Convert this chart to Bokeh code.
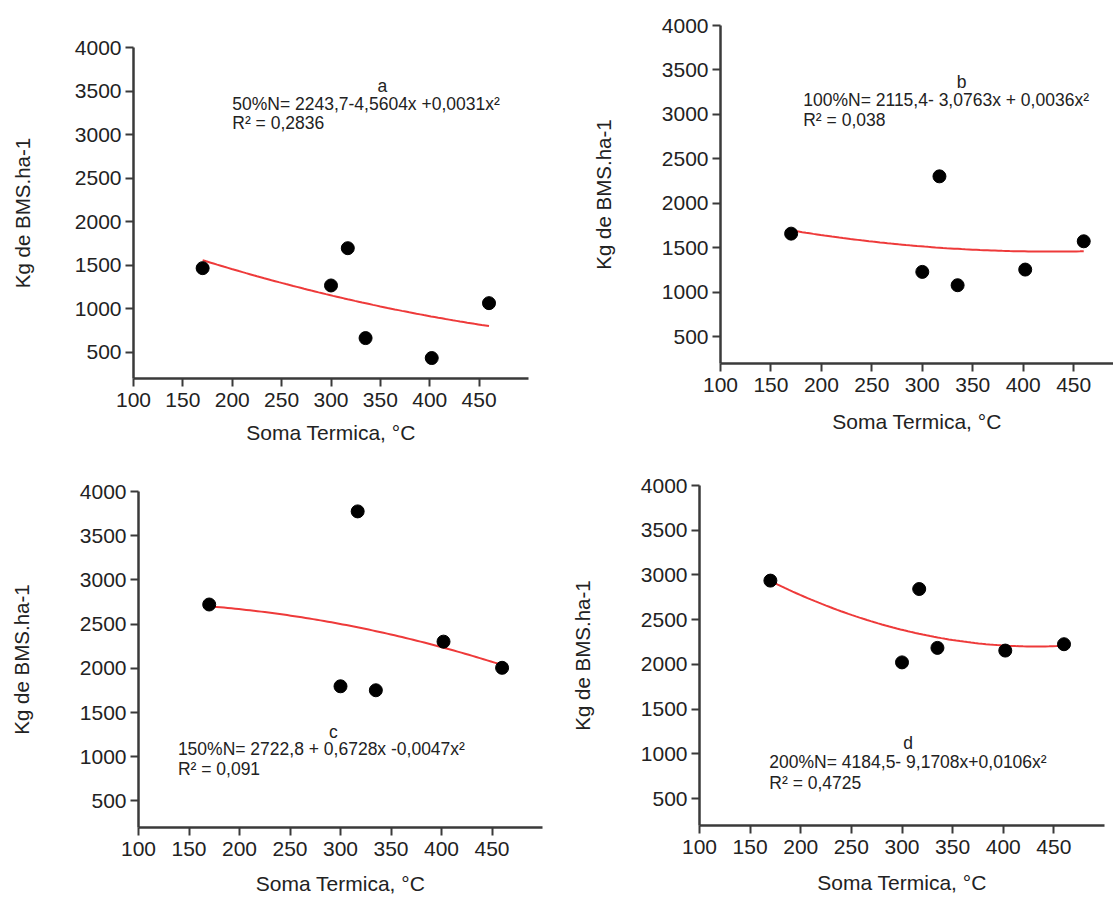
import numpy as np
from bokeh.plotting import figure
from bokeh.layouts import column, row
from bokeh.models import FixedTicker, Range1d
from bokeh.core.properties import value
from bokeh.embed import file_html
from bokeh.resources import INLINE

# ---------------- data ----------------
soma_termica = [170, 300, 317, 335, 402, 460]

bms_50 = [1467, 1268, 1696, 664, 435, 1065]
bms_100 = [1660, 1230, 2304, 1080, 1256, 1574]
bms_150 = [2722, 1797, 3775, 1752, 2302, 2006]
bms_200 = [2937, 2023, 2843, 2185, 2155, 2226]

# fitted quadratic coefficients as printed on the chart: c0 + c1*x + c2*x^2
coef_50 = [2243.7, -4.5604, 0.0031]
coef_100 = [2115.4, -3.0763, 0.0036]
coef_150 = [2722.8, 0.6728, -0.0047]
coef_200 = [4184.5, -9.1708, 0.0106]

eq_50 = "50%N= 2243,7-4,5604x +0,0031x²"
eq_100 = "100%N= 2115,4- 3,0763x + 0,0036x²"
eq_150 = "150%N= 2722,8 + 0,6728x -0,0047x²"
eq_200 = "200%N= 4184,5- 9,1708x+0,0106x²"
r2_50 = "R² = 0,2836"
r2_100 = "R² = 0,038"
r2_150 = "R² = 0,091"
r2_200 = "R² = 0,4725"
letters = ["a", "b", "c", "d"]

x_ticks = [100, 150, 200, 250, 300, 350, 400, 450]
y_ticks = [500, 1000, 1500, 2000, 2500, 3000, 3500, 4000]
x_title = "Soma Termica, °C"
y_title = "Kg de BMS.ha-1"

FONT = "Liberation Sans"
AXIS_COL = "#3a3a3a"
TEXT_COL = "#222222"
RED = "#ee3a3a"
Y_LO, Y_HI = 200, 4000


def panel(w, h, borders, x_end, ys, coef, letter, eq, r2,
          letter_pos, eq_pos, r2_y, y_standoff, x_standoff):
    l, r, t, b = borders
    p = figure(width=w, height=h, output_backend="svg", toolbar_location=None,
               x_range=Range1d(100, x_end), y_range=Range1d(Y_LO, Y_HI),
               min_border_left=l, min_border_right=r, min_border_top=t, min_border_bottom=b,
               background_fill_color="white", border_fill_color="white")
    p.outline_line_color = None
    p.grid.grid_line_color = None
    for ax, ticks in ((p.xaxis, x_ticks), (p.yaxis, y_ticks)):
        ax.ticker = FixedTicker(ticks=ticks)
        ax.axis_line_color = AXIS_COL
        ax.axis_line_width = 2.5
        ax.major_tick_line_color = AXIS_COL
        ax.major_tick_line_width = 2
        ax.major_tick_in = 0
        ax.major_tick_out = 8
        ax.minor_tick_line_color = None
        ax.major_label_text_font = FONT
        ax.major_label_text_font_size = "21px"
        ax.major_label_text_color = TEXT_COL
        ax.axis_label_text_font = FONT
        ax.axis_label_text_font_style = "normal"
        ax.axis_label_text_color = TEXT_COL
    p.xaxis.major_label_standoff = 6
    p.yaxis.major_label_standoff = 4
    p.xaxis.axis_label = x_title
    p.xaxis.axis_label_text_font_size = "21px"
    p.xaxis.axis_label_standoff = x_standoff
    p.yaxis.axis_label = y_title
    p.yaxis.axis_label_text_font_size = "20.5px"
    p.yaxis.axis_label_standoff = y_standoff

    # fitted curve from the printed coefficients
    xc = np.linspace(170, 460, 80)
    yc = coef[0] + coef[1] * xc + coef[2] * xc ** 2
    p.line(xc, yc, line_color=RED, line_width=2)

    p.scatter(soma_termica, ys, size=13, fill_color="black", line_color="black")

    p.text(x=[letter_pos[0]], y=[letter_pos[1]], text=[letter], text_font=value(FONT),
           text_font_size="17.5px", text_color=TEXT_COL, text_align="center", text_baseline="middle")
    p.text(x=[eq_pos[0], eq_pos[0]], y=[eq_pos[1], r2_y], text=[eq, r2], text_font=value(FONT),
           text_font_size="17.5px", text_color=TEXT_COL, text_align="left", text_baseline="middle")
    return p


pa = panel(560, 460, (133, 32, 47, 82), 500, bms_50, coef_50,
           letters[0], eq_50, r2_50, (352, 3555), (200, 3350), 3130, 38, 11)
pb = panel(553, 460, (160, 0, 25, 97), 489.5, bms_100, coef_100,
           letters[1], eq_100, r2_100, (339, 3364), (182, 3165), 2940, 44, 15)
pc = panel(560, 437, (138, 18, 31, 68), 500, bms_150, coef_150,
           letters[2], eq_150, r2_150, (293, 1279), (139, 1085), 860, 44, 13)
pd = panel(553, 437, (139, 9, 25, 72), 500, bms_200, coef_200,
           letters[3], eq_200, r2_200, (306, 1117), (169, 911), 679, 44, 14)

# each plot wrapped in its own column so that frames are not aligned across the row
layout = column(row(column(pa), column(pb)), row(column(pc), column(pd)))

with open("out.html", "w") as f:
    f.write(file_html(layout, INLINE))
